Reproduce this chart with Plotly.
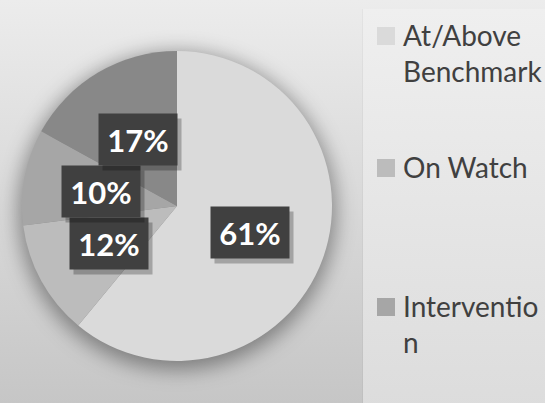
import base64
import math
import plotly.graph_objects as go

# ---- data ----
categories = ["At/Above Benchmark", "On Watch", "Intervention", "Urgent Intervention"]
legend_text = ["At/Above<br>Benchmark", "On Watch", "Interventio<br>n"]  # entries visible in the legend
percent_values = [61, 12, 10, 17]
slice_colors = ["#dadada", "#bcbcbc", "#a6a6a6", "#888888"]

# ---- layout constants ----
W, H = 545, 403
PIE_CX, PIE_CY, PIE_R = 177, 206, 155  # pixels
LABEL_RADIUS = 0.5
legend_row_centers = [36, 168, 307]  # pixel y of first text line of each entry
LEGEND_MARKER_X = 377
LEGEND_TEXT_X = 402

# background (gradient, legend panel, pie shadow) as an svg image
bg_svg = f'''<svg xmlns="http://www.w3.org/2000/svg" width="{W}" height="{H}">
<defs>
<linearGradient id="g" x1="0" y1="0" x2="0" y2="1">
<stop offset="0" stop-color="#ececec"/><stop offset="1" stop-color="#c6c6c6"/></linearGradient>
<linearGradient id="p" x1="0" y1="0" x2="0" y2="1">
<stop offset="0" stop-color="#efefef"/><stop offset="1" stop-color="#dcdcdc"/></linearGradient>
<filter id="b" x="-30%" y="-30%" width="160%" height="160%"><feGaussianBlur stdDeviation="10"/></filter>
</defs>
<rect width="{W}" height="{H}" fill="url(#g)"/>
<circle cx="{PIE_CX}" cy="{PIE_CY + 5}" r="{PIE_R + 4}" fill="#000" fill-opacity="0.38" filter="url(#b)"/>
<rect x="362" y="9" width="{W}" height="{H}" fill="#000" fill-opacity="0.03"/>
<rect x="363" y="9" width="{W}" height="{H}" fill="url(#p)"/>
</svg>'''
bg_uri = "data:image/svg+xml;base64," + base64.b64encode(bg_svg.encode()).decode()

fig = go.Figure()
fig.add_trace(go.Pie(
    labels=categories,
    values=percent_values,
    sort=False,
    direction="clockwise",
    rotation=0,
    marker=dict(colors=slice_colors, line=dict(width=0)),
    textinfo="none",
    hoverinfo="label+percent",
    showlegend=False,
    domain=dict(x=[(PIE_CX - PIE_R) / W, (PIE_CX + PIE_R) / W],
                y=[(H - PIE_CY - PIE_R) / H, (H - PIE_CY + PIE_R) / H]),
))

annotations = []
shapes = []
total = sum(percent_values)
cum = 0
for v in percent_values:
    mid = (cum + v / 2) / total * 2 * math.pi
    cum += v
    px = PIE_CX + LABEL_RADIUS * PIE_R * math.sin(mid)
    py = PIE_CY - LABEL_RADIUS * PIE_R * math.cos(mid)
    pct = round(v / total * 100)
    common = dict(x=px / W, y=1 - py / H, xref="paper", yref="paper", showarrow=False,
                  width=78, height=51, borderpad=0, xanchor="center", yanchor="middle")
    annotations.append(dict(text="", bgcolor="rgba(0,0,0,0.25)", xshift=4, yshift=-5, **common))
    annotations.append(dict(text=f"{pct}%", bgcolor="#404040",
                            font=dict(family="Lato", size=31, color="white", weight=700), **common))

for name, color, yc in zip(legend_text, slice_colors, legend_row_centers):
    shapes.append(dict(type="rect", xref="paper", yref="paper",
                       x0=LEGEND_MARKER_X / W, x1=(LEGEND_MARKER_X + 18) / W,
                       y0=1 - (yc + 9) / H, y1=1 - (yc - 9) / H,
                       fillcolor=color, line=dict(width=0)))
    annotations.append(dict(text=name, x=LEGEND_TEXT_X / W, y=1 - (yc - 19) / H,
                            xref="paper", yref="paper", showarrow=False, align="left",
                            xanchor="left", yanchor="top", borderpad=0,
                            font=dict(family="Lato", size=28, color="#404040")))

fig.update_layout(
    width=W, height=H,
    margin=dict(l=0, r=0, t=0, b=0),
    paper_bgcolor="#dcdcdc",
    images=[dict(source=bg_uri, xref="paper", yref="paper", x=0, y=1, sizex=1, sizey=1,
                 xanchor="left", yanchor="top", sizing="stretch", layer="below")],
    annotations=annotations,
    shapes=shapes,
    showlegend=False,
)

fig.write_html("out.html", config={"displayModeBar": False},
               post_script="document.body.style.margin='0';")
